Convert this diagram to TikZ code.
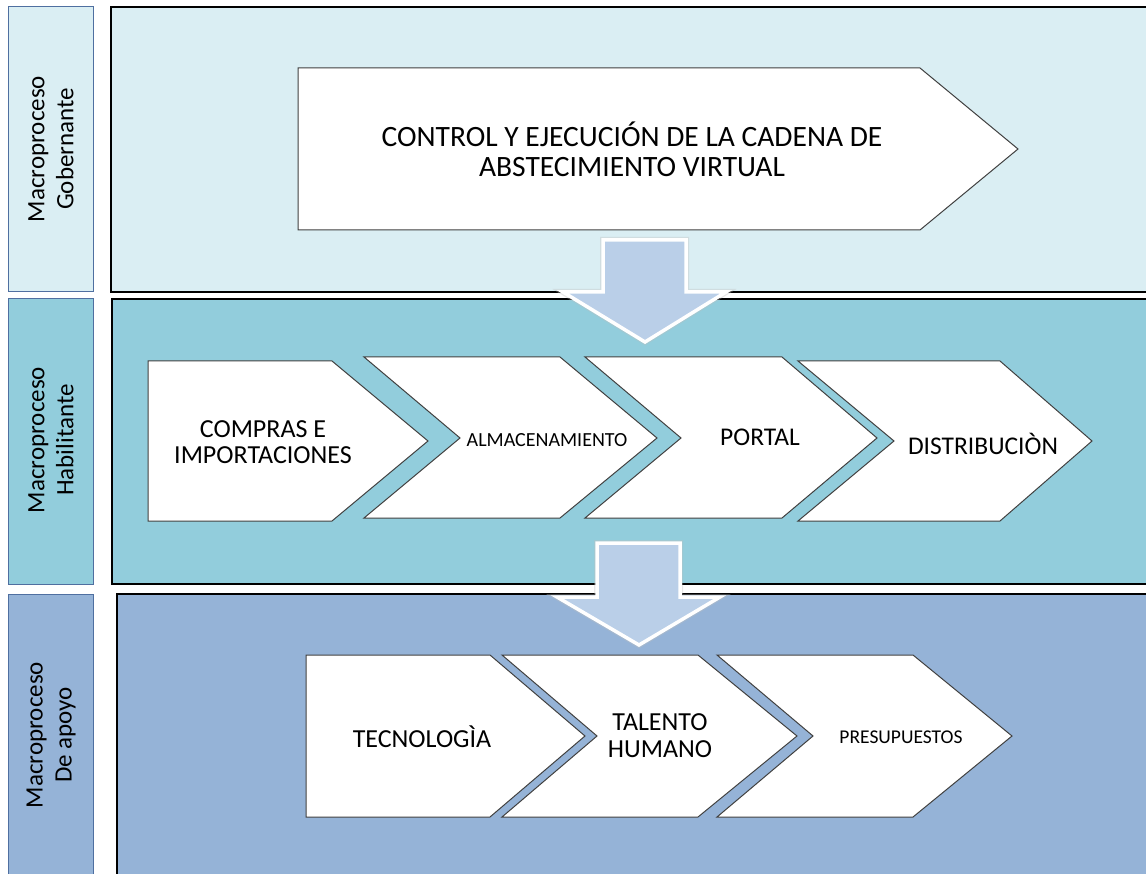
\documentclass[tikz,border=0pt]{standalone}
\usepackage{fontspec}
\setmainfont{Carlito}
\definecolor{pone}{HTML}{DAEEF3}
\definecolor{ptwo}{HTML}{92CDDC}
\definecolor{pthree}{HTML}{95B3D7}
\definecolor{lblborder}{HTML}{4F6FA0}
\definecolor{arrowfill}{HTML}{BACFE8}
\begin{document}
\begin{tikzpicture}[x=1pt,y=-1pt,
  lblbox/.style={draw=lblborder,line width=1pt},
  panel/.style={draw=black,line width=1.5pt},
  chev/.style={draw=black!75,fill=white,line width=1pt},
  bigarrow/.style={draw=white,line width=3.5pt,fill=arrowfill,line join=miter},
  arrowshadow/.style={draw=black!25,line width=6pt,fill=black!25,opacity=0.35,line join=miter},
  lbl/.style={rotate=90,align=center,font=\fontsize{25}{29}\selectfont,text=black},
  ctext/.style={align=center,text=black}]
\useasboundingbox (0,0) rectangle (1146,874);
\clip (0,0) rectangle (1146,874);
\fill[white] (0,0) rectangle (1146,874);
% left label boxes
\draw[lblbox,fill=pone] (8,7) rectangle (93,292);
\draw[lblbox,fill=ptwo] (8,299) rectangle (93,584);
\draw[lblbox,fill=pthree] (8,594) rectangle (93,890);
\node[lbl] (l1) at (51,149) {Macroproceso\\Gobernante};
\node[lbl] (l2) at (51,440) {Macroproceso\\Habilitante};
\node[lbl] (l3) at (51,735) {Macroproceso\\De apoyo};
% panels
\draw[panel,fill=pone] (111,7) rectangle (1150,292);
\draw[panel,fill=ptwo] (112,299) rectangle (1150,584);
\draw[panel,fill=pthree] (117,594) rectangle (1150,890);
% top chevron
\draw[chev] (298,68) -- (920,68) -- (1018,149) -- (920,230) -- (298,230) -- cycle;
\node[ctext,font=\fontsize{29.5}{30}\selectfont] (ctrl) at (632,149) {CONTROL Y EJECUCIÓN DE LA CADENA DE\\ABSTECIMIENTO VIRTUAL};
% row 2 chevrons
\draw[chev] (148,361) -- (332,361) -- (428,441) -- (332,521) -- (148,521) -- cycle;
\draw[chev] (364,357) -- (560,357) -- (657,438) -- (560,518) -- (364,518) -- (460,438) -- cycle;
\draw[chev] (585,357) -- (782,357) -- (877,438) -- (782,518) -- (585,518) -- (681,438) -- cycle;
\draw[chev] (798,361) -- (1000,361) -- (1092,441) -- (1000,521) -- (798,521) -- (894,441) -- cycle;
\node[ctext,font=\fontsize{26}{26}\selectfont] (compras) at (263,442) {COMPRAS E\\IMPORTACIONES};
\node[ctext,font=\fontsize{20}{22}\selectfont] (alm) at (547,440) {ALMACENAMIENTO};
\node[ctext,font=\fontsize{25.5}{27}\selectfont] (portal) at (760,437) {PORTAL};
\node[ctext,font=\fontsize{25.5}{27}\selectfont] (dist) at (983,444) {DISTRIBUCIÒN};
% row 3 chevrons
\draw[chev] (306,655) -- (490,655) -- (585,736) -- (490,817) -- (306,817) -- cycle;
\draw[chev] (502,655) -- (698,655) -- (797,736) -- (698,817) -- (502,817) -- (597,736) -- cycle;
\draw[chev] (717,655) -- (913,655) -- (1012,736) -- (913,817) -- (717,817) -- (813,736) -- cycle;
\node[ctext,font=\fontsize{26}{27}\selectfont] (tec) at (422,737) {TECNOLOGÌA};
\node[ctext,font=\fontsize{26}{27}\selectfont] (tal) at (660,736) {TALENTO\\HUMANO};
\node[ctext,font=\fontsize{19.5}{22}\selectfont] (pres) at (901,737) {PRESUPUESTOS};
% big arrows
\draw[arrowshadow] (603,240) -- (686,240) -- (686,292) -- (726,292) -- (645,342) -- (563,292) -- (603,292) -- cycle;
\draw[bigarrow] (603,240) -- (686,240) -- (686,292) -- (726,292) -- (645,342) -- (563,292) -- (603,292) -- cycle;
\draw[arrowshadow] (597,543) -- (680,543) -- (680,597) -- (720,597) -- (639,645) -- (557,597) -- (597,597) -- cycle;
\draw[bigarrow] (597,543) -- (680,543) -- (680,597) -- (720,597) -- (639,645) -- (557,597) -- (597,597) -- cycle;
\end{tikzpicture}
\end{document}
